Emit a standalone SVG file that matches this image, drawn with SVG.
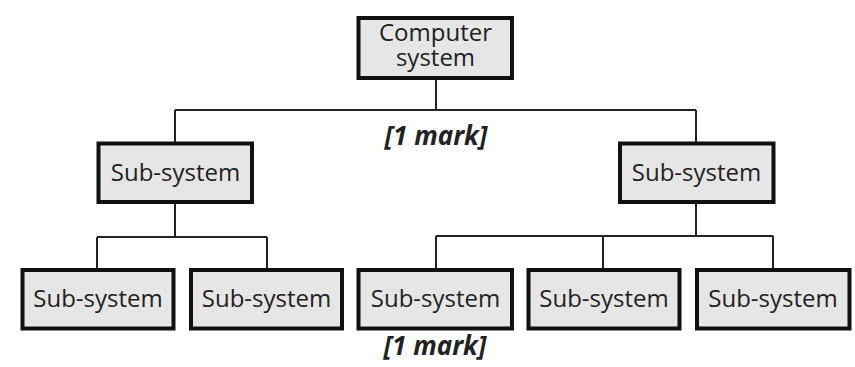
<svg xmlns="http://www.w3.org/2000/svg" width="855" height="367" viewBox="0 0 855 367">
<style>
.box{fill:#e6e6e6;stroke:#111;stroke-width:4}
.lbl{font-family:"Open Sans","DejaVu Sans",sans-serif;font-size:24px;fill:#222;text-anchor:middle}
.mark{font-family:"Open Sans","DejaVu Sans",sans-serif;font-size:26px;font-weight:bold;font-style:italic;fill:#222;text-anchor:middle}
.conn{fill:none;stroke:#222;stroke-width:2}
</style>
<rect width="855" height="367" fill="#fff"/>
<g id="connectors">
<path class="conn" d="M436 80V110M175 110H696M175 110V142M696 110V142"/>
<path class="conn" d="M175 204V237M97 237H267M97 237V268M267 237V268"/>
<path class="conn" d="M696 204V236M436 236H773M436 236V268M603 236V268M773 236V268"/>
</g>
<g id="computer-system">
<rect class="box" x="358.5" y="18" width="153.5" height="60"/>
<text class="lbl" x="435.5" y="41"><tspan x="435.5" y="41">Computer</tspan><tspan x="435.5" y="66">system</tspan></text>
</g>
<g id="sub-left">
<rect class="box" x="98.5" y="143.5" width="153.5" height="58.5"/>
<text class="lbl" x="175.5" y="181">Sub-system</text>
</g>
<g id="sub-right">
<rect class="box" x="620" y="143.5" width="153.5" height="58.5"/>
<text class="lbl" x="696.5" y="181">Sub-system</text>
</g>
<g id="sub-1">
<rect class="box" x="22.5" y="270" width="151" height="58.5"/>
<text class="lbl" x="98" y="307">Sub-system</text>
</g>
<g id="sub-2">
<rect class="box" x="191" y="270" width="151" height="58.5"/>
<text class="lbl" x="266.5" y="307">Sub-system</text>
</g>
<g id="sub-3">
<rect class="box" x="358.5" y="270" width="153.5" height="58.5"/>
<text class="lbl" x="435.5" y="307">Sub-system</text>
</g>
<g id="sub-4">
<rect class="box" x="528.5" y="270" width="151" height="58.5"/>
<text class="lbl" x="604" y="307">Sub-system</text>
</g>
<g id="sub-5">
<rect class="box" x="697" y="270" width="152.5" height="58.5"/>
<text class="lbl" x="773" y="307">Sub-system</text>
</g>
<text class="mark" x="436" y="145">[1 mark]</text>
<text class="mark" x="435" y="355">[1 mark]</text>
</svg>
